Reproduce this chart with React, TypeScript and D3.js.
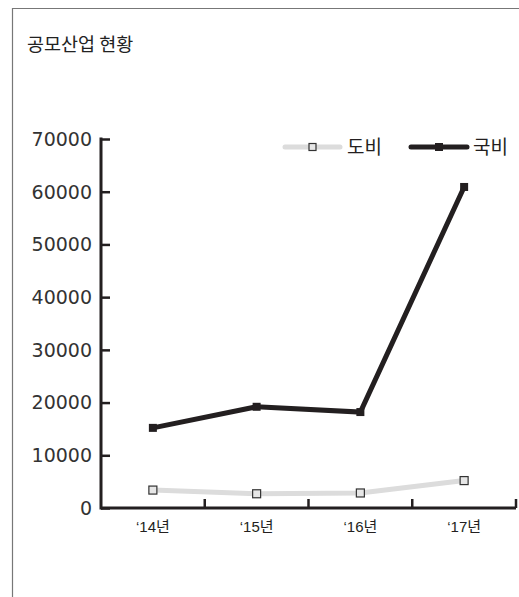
import * as d3 from "d3";
import { useEffect, useRef } from "react";

const W = 519;
const H = 597;
const MARGIN = { top: 139, right: 3, bottom: 89, left: 101 };

const years = ["'14년", "'15년", "'16년", "'17년"];
const dobi = [3400, 2700, 2850, 5200];
const gukbi = [15200, 19200, 18200, 60900];
const yTicks = [0, 10000, 20000, 30000, 40000, 50000, 60000, 70000];

const FONT = "'Liberation Sans', 'Noto Sans CJK KR', sans-serif";
const DARK = "#231f20";

export default function App() {
  const ref = useRef<SVGGElement>(null);
  const boundsWidth = W - MARGIN.left - MARGIN.right;
  const boundsHeight = H - MARGIN.top - MARGIN.bottom;

  const xScale = d3.scaleBand().domain(years).range([0, boundsWidth]);
  const yScale = d3.scaleLinear().domain([0, 70000]).range([boundsHeight, 0]);

  useEffect(() => {
    const g = d3.select(ref.current);
    g.selectAll("*").remove();

    // y축
    const yAxis = g.append("g").call(
      d3.axisRight(yScale).tickValues(yTicks).tickSize(9).tickFormat(() => "")
    );
    yAxis.select(".domain").remove();
    yAxis.selectAll(".tick line").attr("stroke", DARK).attr("stroke-width", 2.5);
    g.append("line")
      .attr("x1", 0).attr("x2", 0)
      .attr("y1", -1.5).attr("y2", boundsHeight + 1.5)
      .attr("stroke", DARK).attr("stroke-width", 3);
    g.append("g")
      .selectAll("text")
      .data(yTicks)
      .join("text")
      .attr("x", -9)
      .attr("y", (d) => yScale(d))
      .attr("dy", "0.36em")
      .attr("text-anchor", "end")
      .attr("font-family", "'DejaVu Sans', sans-serif")
      .attr("font-size", 19)
      .attr("fill", "#333")
      .text((d) => String(d));

    // x축
    g.append("line")
      .attr("x1", 0).attr("x2", boundsWidth)
      .attr("y1", boundsHeight).attr("y2", boundsHeight)
      .attr("stroke", DARK).attr("stroke-width", 3);
    const bounds = years.map((y) => (xScale(y) || 0) + xScale.bandwidth());
    g.append("g")
      .selectAll("line")
      .data(bounds)
      .join("line")
      .attr("x1", (d) => d).attr("x2", (d) => d)
      .attr("y1", boundsHeight).attr("y2", boundsHeight - 9)
      .attr("stroke", DARK).attr("stroke-width", 2.5);
    g.append("g")
      .selectAll("text")
      .data(years)
      .join("text")
      .attr("x", (d) => (xScale(d) || 0) + xScale.bandwidth() / 2)
      .attr("y", boundsHeight + 24)
      .attr("text-anchor", "middle")
      .attr("font-family", FONT)
      .attr("font-size", 15)
      .attr("fill", DARK)
      .text((d) => d.replace("'", "‘"));

    const cx = (i: number) => (xScale(years[i]) || 0) + xScale.bandwidth() / 2;
    const line = d3.line<number>().x((_, i) => cx(i)).y((d) => yScale(d));

    // 도비
    g.append("path")
      .attr("d", line(dobi) || "")
      .attr("fill", "none")
      .attr("stroke", "#dcdcdc")
      .attr("stroke-width", 5);
    g.append("g")
      .selectAll("rect")
      .data(dobi)
      .join("rect")
      .attr("x", (_, i) => cx(i) - 4)
      .attr("y", (d) => yScale(d) - 4)
      .attr("width", 8).attr("height", 8)
      .attr("fill", "#e6e6e6")
      .attr("stroke", "#333")
      .attr("stroke-width", 1.2);

    // 국비
    g.append("path")
      .attr("d", line(gukbi) || "")
      .attr("fill", "none")
      .attr("stroke", DARK)
      .attr("stroke-width", 5)
      .attr("stroke-linejoin", "miter");
    g.append("g")
      .selectAll("rect")
      .data(gukbi)
      .join("rect")
      .attr("x", (_, i) => cx(i) - 4)
      .attr("y", (d) => yScale(d) - 4)
      .attr("width", 8).attr("height", 8)
      .attr("fill", DARK);
  }, []);

  return (
    <svg width={W} height={H} style={{ position: "absolute", left: 0, top: 0 }}>
      <rect width={W} height={H} fill="#fff" />
      <path d={`M12.5,${H} V8.5 H${W}`} fill="none" stroke="#777" strokeWidth={1.2} />
      <text x={27} y={51} fontFamily="'Noto Sans CJK KR', sans-serif" fontSize={18.5} fill="#222">
        공모산업 현황
      </text>
      {/* 범례 */}
      <g fontFamily="'Noto Sans CJK KR', sans-serif" fontSize={19} fill={DARK}>
        <line x1={285} x2={340} y1={147} y2={147} stroke="#dcdcdc" strokeWidth={5} strokeLinecap="round" />
        <rect x={309} y={143.5} width={7} height={7} fill="#e6e6e6" stroke="#333" strokeWidth={1.2} />
        <text x={347} y={154}>도비</text>
        <line x1={411} x2={467} y1={147} y2={147} stroke={DARK} strokeWidth={5} strokeLinecap="round" />
        <rect x={435} y={143} width={8} height={8} fill={DARK} />
        <text x={473} y={154}>국비</text>
      </g>
      <g ref={ref} transform={`translate(${MARGIN.left},${MARGIN.top})`} />
    </svg>
  );
}
